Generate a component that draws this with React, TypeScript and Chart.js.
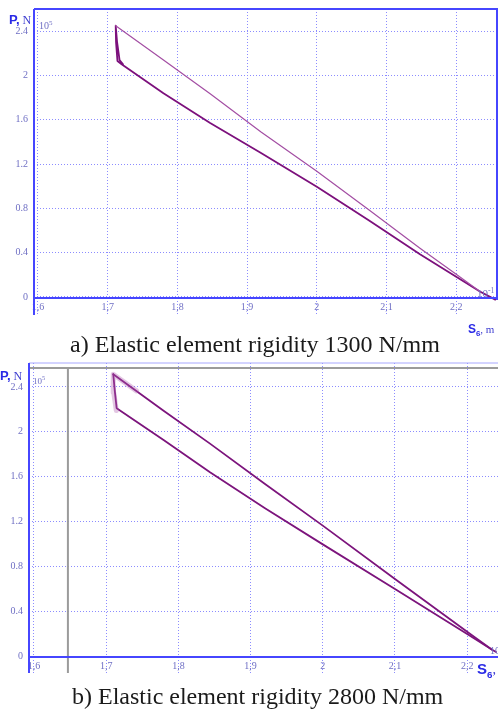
import React, { useEffect, useRef } from "react";
import { Chart, registerables } from "chart.js";

Chart.register(...registerables);

// ---- Tick values and labels (shared by both panels) ----
const xTicks = [1.6, 1.7, 1.8, 1.9, 2.0, 2.1, 2.2];
const xTickLabels = ["1,6", "1,7", "1,8", "1,9", "2", "2,1", "2,2"];
const yTicks = [0, 0.4, 0.8, 1.2, 1.6, 2.0, 2.4];
const yTickLabels = ["0", "0.4", "0.8", "1.2", "1.6", "2", "2.4"];

// ---- Panel a: rigidity 1300 N/mm  (S6 in 10^-1 m, P in 10^5 N) ----
const upperAX = [1.7115, 1.78, 1.847, 1.92, 2.0, 2.075, 2.148, 2.2, 2.234];
const upperAY = [2.449, 2.14, 1.835, 1.49, 1.135, 0.785, 0.44, 0.205, 0.048];
const lowerAX = [2.256, 2.234, 2.148, 2.075, 2.0, 1.92, 1.847, 1.78, 1.72, 1.714, 1.712, 1.7115, 1.7135, 1.717, 1.722];
const lowerAY = [-0.025, 0.048, 0.385, 0.69, 0.995, 1.3, 1.57, 1.84, 2.1, 2.13, 2.3, 2.449, 2.3, 2.14, 2.1];

// ---- Panel b: rigidity 2800 N/mm ----
const upperBX = [1.7098, 1.78, 1.8438, 1.92, 2.0, 2.1, 2.2, 2.234];
const upperBY = [2.513, 2.185, 1.895, 1.535, 1.165, 0.69, 0.22, 0.062];
const lowerBX = [2.24, 2.234, 2.2, 2.1, 2.0, 1.92, 1.8438, 1.78, 1.7145, 1.712, 1.7098];
const lowerBY = [0.04, 0.062, 0.2, 0.6, 0.998, 1.32, 1.64, 1.925, 2.21, 2.36, 2.513];
const hazeBX = [1.714, 1.7105, 1.7098, 1.742];
const hazeBY = [2.19, 2.35, 2.513, 2.365];
const cursorBX = [1.647];
const cursorBY = [2.569];

const SERIF = "'Liberation Serif', 'Times New Roman', serif";
const SANS = "'Liberation Sans', Arial, sans-serif";
const TICK_COLOR = "#6f6fc4";
const GRID_COLOR = "#8c8cff";
const AXIS_COLOR = "#4646ff";

const zip = (xs: number[], ys: number[]) => xs.map((x, i) => ({ x, y: ys[i] }));

const framePlugin = {
  id: "frame",
  beforeDatasetsDraw(chart: any, _a: any, o: any) {
    if (o.cursorX == null) return;
    const { ctx, chartArea } = chart;
    const cx = chart.scales.x.getPixelForValue(o.cursorX);
    const cy = chart.scales.y.getPixelForValue(o.cursorY);
    ctx.save();
    ctx.strokeStyle = "#9b9b9b";
    ctx.lineWidth = 2;
    ctx.beginPath();
    ctx.moveTo(chartArea.left, cy);
    ctx.lineTo(chart.width, cy);
    ctx.stroke();
    ctx.beginPath();
    ctx.moveTo(cx, cy);
    ctx.lineTo(cx, chartArea.bottom + o.ext);
    ctx.stroke();
    ctx.restore();
  },
  afterDraw(chart: any, _a: any, o: any) {
    const { ctx, chartArea } = chart;
    const { left, right, top, bottom } = chartArea;
    ctx.save();
    ctx.strokeStyle = o.topColor;
    ctx.lineWidth = o.topWidth;
    ctx.beginPath();
    ctx.moveTo(left, top);
    ctx.lineTo(chart.width, top);
    ctx.stroke();
    if (o.rightBorder) {
      ctx.strokeStyle = AXIS_COLOR;
      ctx.lineWidth = 2;
      ctx.beginPath();
      ctx.moveTo(right, top);
      ctx.lineTo(right, bottom + 2);
      ctx.stroke();
    }
    ctx.strokeStyle = AXIS_COLOR;
    ctx.lineWidth = 2;
    ctx.beginPath();
    ctx.moveTo(left, top);
    ctx.lineTo(left, bottom + o.ext);
    ctx.stroke();
    ctx.beginPath();
    ctx.moveTo(left, bottom);
    ctx.lineTo(chart.width, bottom);
    ctx.stroke();
    ctx.restore();
  },
};

type Spec = {
  datasets: any[];
  xMin: number;
  xMax: number;
  yMin: number;
  yMax: number;
  padTop: number;
  padRight: number;
  yWidth: number;
  xHeight: number;
  frame: any;
};

function zeroPad(s: any) {
  s.paddingTop = 0;
  s.paddingBottom = 0;
  s.paddingLeft = 0;
  s.paddingRight = 0;
}

function buildConfig(p: Spec): any {
  return {
    type: "line",
    data: { datasets: p.datasets },
    plugins: [framePlugin],
    options: {
      responsive: false,
      animation: false,
      events: [],
      layout: { padding: { left: 0, right: p.padRight, top: p.padTop, bottom: 0 } },
      plugins: { legend: { display: false }, tooltip: { enabled: false }, frame: p.frame },
      elements: { point: { radius: 0 }, line: { tension: 0 } },
      scales: {
        x: {
          type: "linear",
          min: p.xMin,
          max: p.xMax,
          afterBuildTicks: (s: any) => {
            s.ticks = xTicks.map((v) => ({ value: v }));
          },
          afterFit: (s: any) => {
            s.height = p.xHeight;
            zeroPad(s);
          },
          grid: {
            color: GRID_COLOR,
            lineWidth: 1,
            drawTicks: true,
            tickLength: 16,
            tickColor: GRID_COLOR,
            tickBorderDash: [1, 2],
          },
          border: { display: false, dash: [1, 2] },
          ticks: {
            autoSkip: false,
            maxRotation: 0,
            padding: -13,
            color: TICK_COLOR,
            font: { family: SERIF, size: 10 },
            callback: (_v: any, i: number) => xTickLabels[i],
          },
        },
        y: {
          type: "linear",
          min: p.yMin,
          max: p.yMax,
          afterBuildTicks: (s: any) => {
            s.ticks = yTicks.map((v) => ({ value: v }));
          },
          afterFit: (s: any) => {
            s.width = p.yWidth;
            zeroPad(s);
          },
          grid: { color: GRID_COLOR, lineWidth: 1, drawTicks: false },
          border: { display: false, dash: [1, 2] },
          ticks: {
            autoSkip: false,
            padding: 6,
            color: TICK_COLOR,
            font: { family: SERIF, size: 10 },
            callback: (_v: any, i: number) => yTickLabels[i],
          },
        },
      },
    },
  };
}

const lineDs = (xs: number[], ys: number[], color: string, width: number) => ({
  data: zip(xs, ys),
  borderColor: color,
  borderWidth: width,
  pointRadius: 0,
  fill: false,
  clip: false,
  borderJoinStyle: "round",
  borderCapStyle: "round",
});

const specA: Spec = {
  datasets: [
    lineDs(upperAX, upperAY, "#a34ea3", 1.2),
    lineDs(lowerAX, lowerAY, "#7c107c", 1.8),
  ],
  xMin: 1.5943,
  xMax: 2.2585,
  yMin: -0.01,
  yMax: 2.6,
  padTop: 9,
  padRight: 1,
  yWidth: 34,
  xHeight: 32,
  frame: { topColor: AXIS_COLOR, topWidth: 2, rightBorder: true, ext: 17 },
};

const specB: Spec = {
  datasets: [
    lineDs(hazeBX, hazeBY, "rgba(175,95,175,0.35)", 5),
    lineDs(upperBX, upperBY, "#7c147c", 1.8),
    lineDs(lowerBX, lowerBY, "#7c147c", 1.8),
  ],
  xMin: 1.5931,
  xMax: 2.2427,
  yMin: -0.005,
  yMax: 2.613,
  padTop: 13,
  padRight: 0,
  yWidth: 29,
  xHeight: 33,
  frame: {
    topColor: "#a8a8ff",
    topWidth: 1,
    rightBorder: false,
    ext: 16,
    cursorX: cursorBX[0],
    cursorY: cursorBY[0],
  },
};

function Panel({ spec, top, height }: { spec: Spec; top: number; height: number }) {
  const ref = useRef<HTMLCanvasElement>(null);
  useEffect(() => {
    const chart = new Chart(ref.current as HTMLCanvasElement, buildConfig(spec));
    return () => chart.destroy();
  }, []);
  return (
    <canvas
      ref={ref}
      width={498}
      height={height}
      style={{ position: "absolute", left: 0, top, width: 498, height }}
    />
  );
}

const abs = (left: number, top: number, extra: any = {}) => ({
  position: "absolute" as const,
  left,
  top,
  lineHeight: 1,
  whiteSpace: "nowrap" as const,
  ...extra,
});

function PLabel({ left, top }: { left: number; top: number }) {
  return (
    <div style={abs(left, top, { color: "#2a2ae6" })}>
      <span style={{ fontFamily: SANS, fontWeight: "bold", fontSize: 13 }}>P,</span>
      <span style={{ fontFamily: SERIF, fontSize: 12, color: "#3c3cd0" }}> N</span>
    </div>
  );
}

function SLabel({ left, top, size, tail }: { left: number; top: number; size: number; tail: string }) {
  return (
    <div style={abs(left, top, { color: "#2a2ae6" })}>
      <span style={{ fontFamily: SANS, fontWeight: "bold", fontSize: size }}>S</span>
      <span style={{ fontFamily: SANS, fontWeight: "bold", fontSize: size * 0.65, position: "relative", top: size * 0.25 }}>6</span>
      <span style={{ fontFamily: SERIF, fontSize: size - 1, color: "#3c3cd0" }}>{tail}</span>
    </div>
  );
}

function Mult({ left, top, size, exp }: { left: number; top: number; size: number; exp: string }) {
  return (
    <div style={abs(left, top, { color: TICK_COLOR, fontFamily: SERIF, fontSize: size })}>
      10
      <span style={{ fontSize: size * 0.7, position: "relative", top: -size * 0.4 }}>{exp}</span>
    </div>
  );
}

export default function App() {
  return (
    <div
      style={{
        position: "absolute",
        left: 0,
        top: 0,
        width: 498,
        height: 710,
        background: "#ffffff",
        overflow: "hidden",
      }}
    >
      <Panel spec={specA} top={0} height={330} />
      <Panel spec={specB} top={350} height={340} />

      <PLabel left={9} top={11} />
      <Mult left={39} top={21} size={10} exp="5" />
      <Mult left={477} top={288} size={11} exp="-1" />
      <SLabel left={468} top={320} size={12} tail=", m" />

      <PLabel left={0} top={367} />
      <Mult left={33} top={377} size={9} exp="5" />
      <Mult left={490} top={646} size={10} exp="-1" />
      <SLabel left={477} top={661} size={15} tail=", m" />

      <div style={abs(70, 332, { fontFamily: SERIF, fontSize: 24, color: "#1a1a1a" })}>
        a) Elastic element rigidity 1300 N/mm
      </div>
      <div style={abs(72, 684, { fontFamily: SERIF, fontSize: 24, color: "#1a1a1a" })}>
        b) Elastic element rigidity 2800 N/mm
      </div>
    </div>
  );
}
